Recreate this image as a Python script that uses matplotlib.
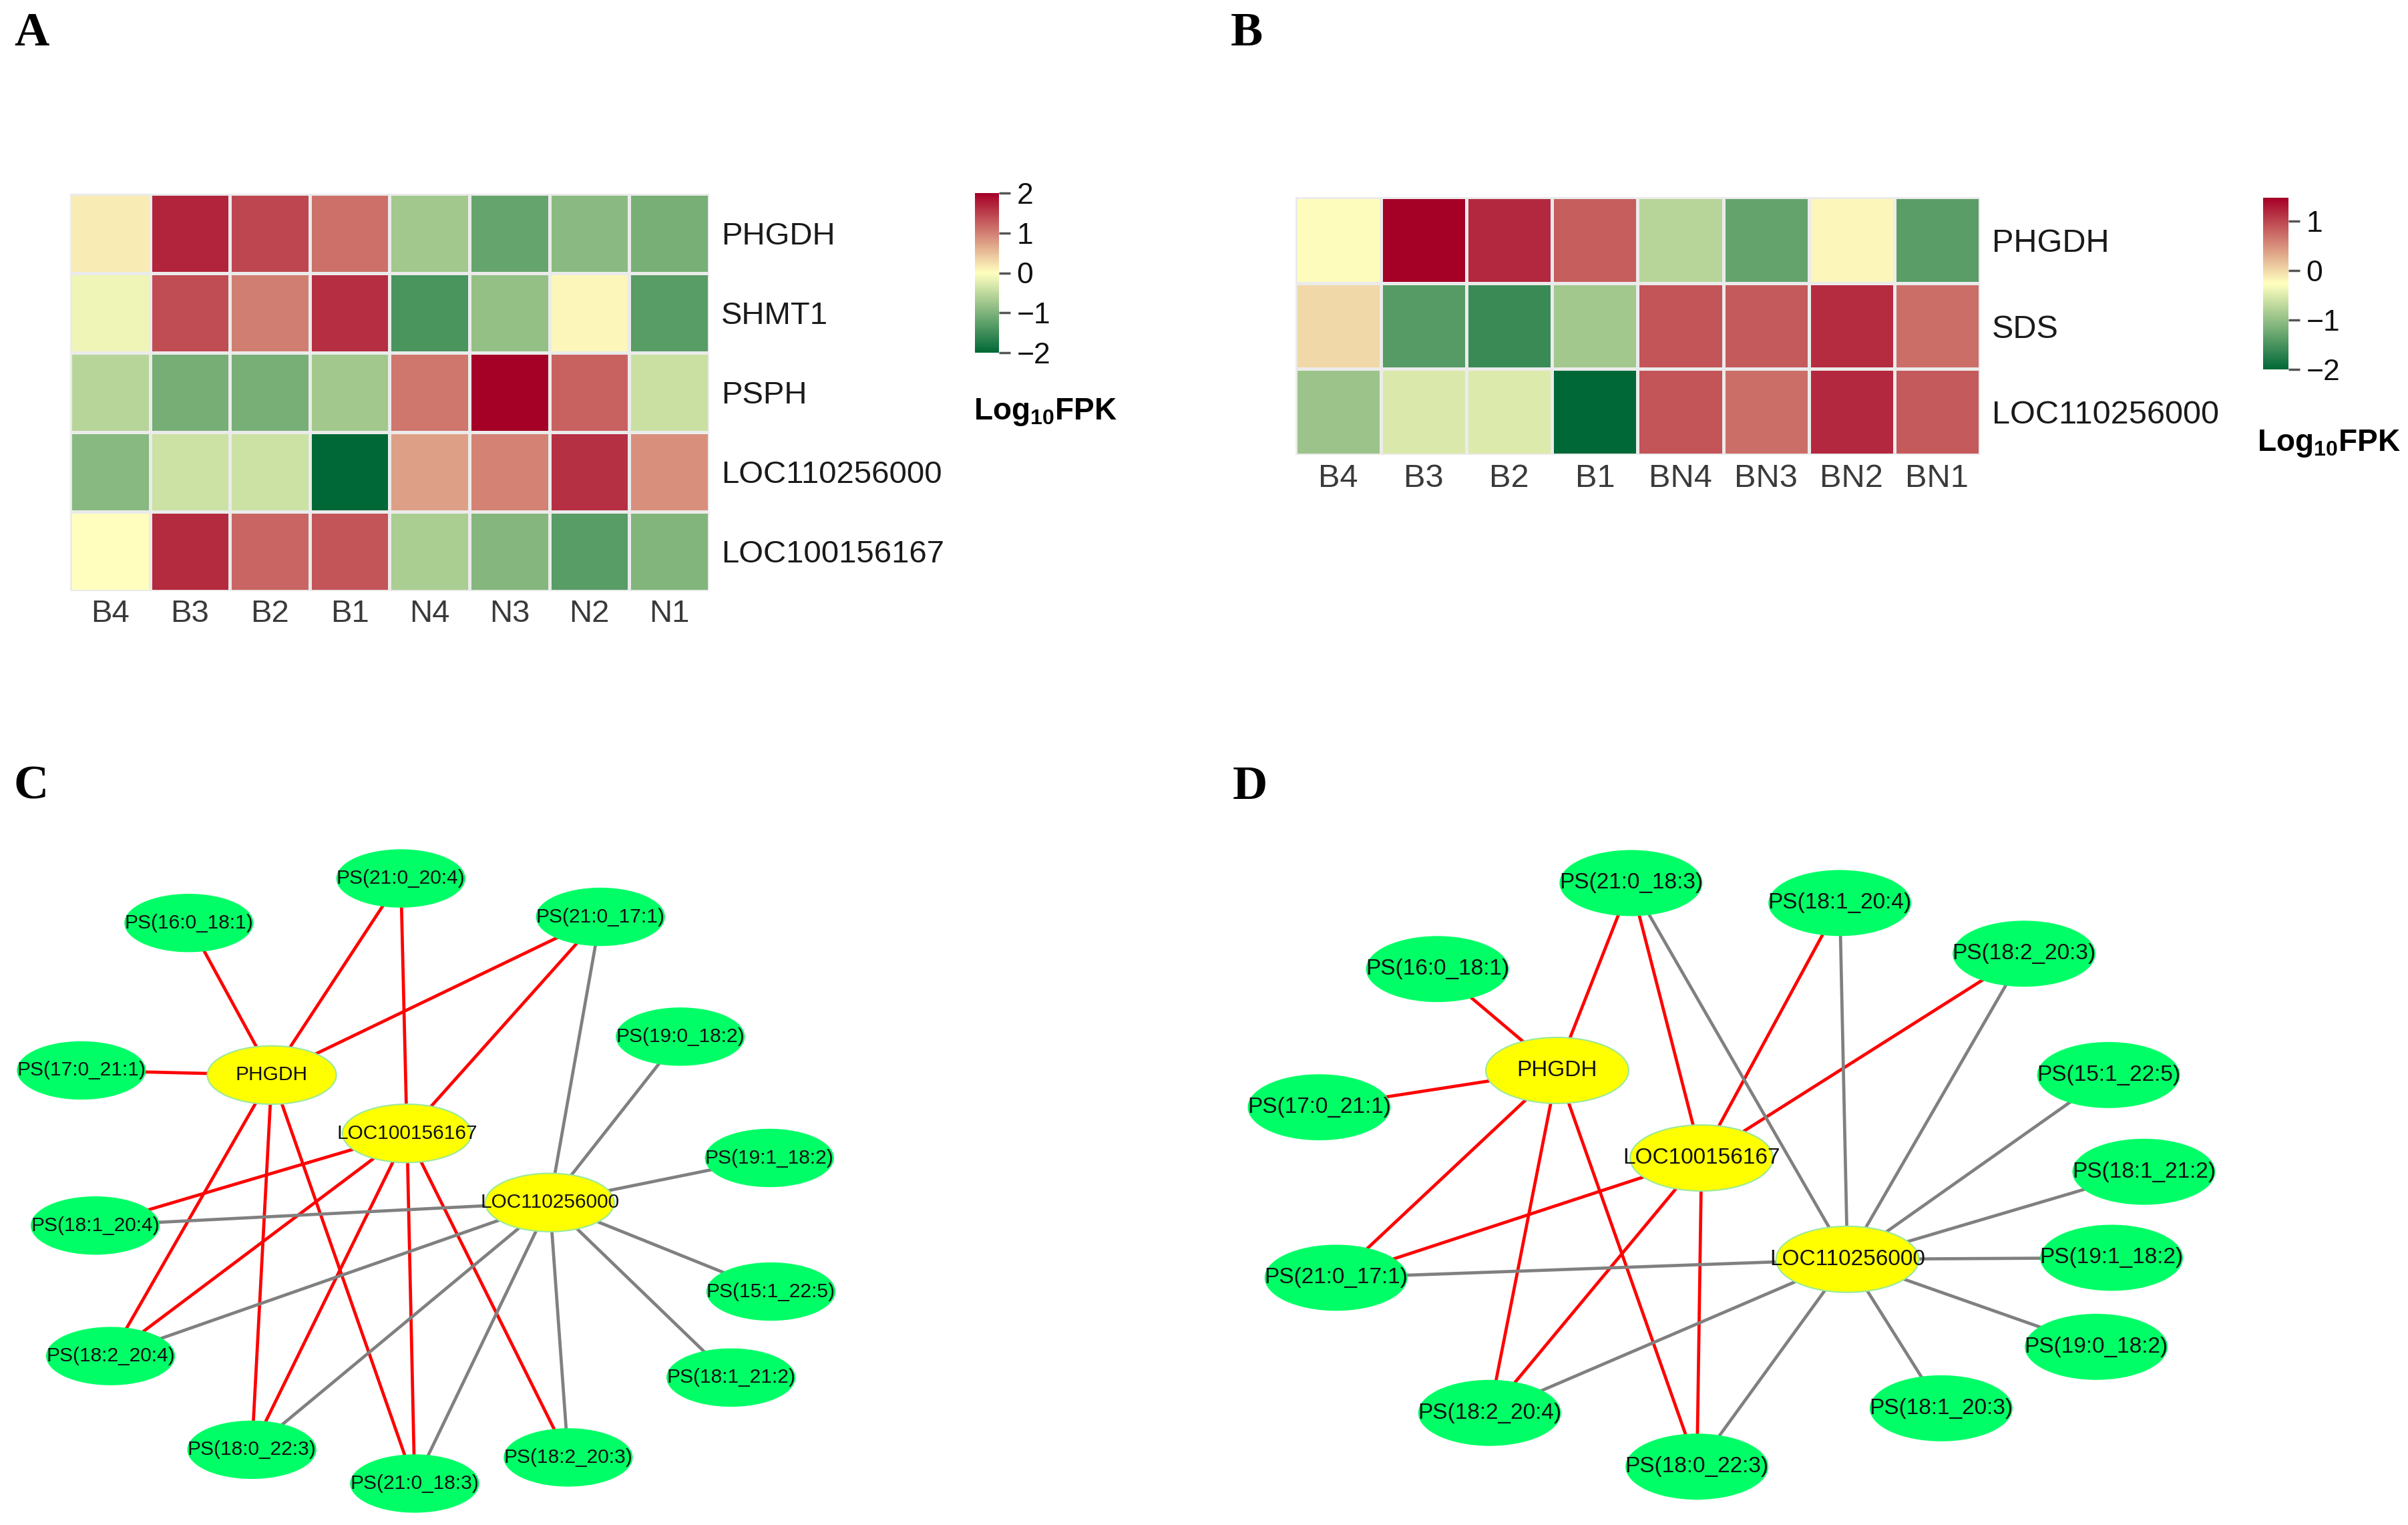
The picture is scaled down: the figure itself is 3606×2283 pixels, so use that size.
import numpy as np
import matplotlib
matplotlib.use('Agg')
import matplotlib.pyplot as plt
from matplotlib.colors import LinearSegmentedColormap
from matplotlib.patches import Ellipse

plt.rcParams['font.family'] = ['Liberation Sans', 'DejaVu Sans']
plt.rcParams['mathtext.fontset'] = 'custom'
plt.rcParams['mathtext.rm'] = 'Liberation Sans'
plt.rcParams['mathtext.bf'] = 'Liberation Sans:bold'

# ---------------- heatmap data ----------------
a_cols = ['B4', 'B3', 'B2', 'B1', 'N4', 'N3', 'N2', 'N1']
a_rows = ['PHGDH', 'SHMT1', 'PSPH', 'LOC110256000', 'LOC100156167']
a_phgdh = [0.15, 1.71, 1.44, 1.12, -0.72, -1.20, -0.91, -1.06]
a_shmt1 = [-0.14, 1.40, 1.00, 1.64, -1.42, -0.83, 0.07, -1.30]
a_psph = [-0.56, -1.07, -1.05, -0.73, 1.07, 2.00, 1.23, -0.41]
a_loc000 = [-0.93, -0.40, -0.40, -2.00, 0.74, 0.97, 1.62, 0.87]
a_loc167 = [0.00, 1.67, 1.20, 1.34, -0.67, -0.96, -1.30, -0.97]
a_ticks = [-2, -1, 0, 1, 2]

b_cols = ['B4', 'B3', 'B2', 'B1', 'BN4', 'BN3', 'BN2', 'BN1']
b_rows = ['PHGDH', 'SDS', 'LOC110256000']
b_phgdh = [-0.25, 1.47, 1.19, 0.83, -0.75, -1.31, -0.20, -1.38]
b_sds = [0.00, -1.41, -1.60, -0.90, 0.90, 0.85, 1.16, 0.72]
b_loc000 = [-0.93, -0.51, -0.50, -2.00, 0.89, 0.72, 1.19, 0.86]
b_ticks = [-2, -1, 0, 1]

# ---------------- network data (layout in page units) ----------------
c_nodes = {
    'PS(21:0_20:4)': (261, 572), 'PS(16:0_18:1)': (123, 601),
    'PS(21:0_17:1)': (391, 597), 'PS(19:0_18:2)': (443, 675),
    'PS(17:0_21:1)': (53, 697), 'PHGDH': (177, 700),
    'LOC100156167': (265, 738), 'PS(19:1_18:2)': (501, 754),
    'LOC110256000': (358, 783), 'PS(18:1_20:4)': (62, 798),
    'PS(15:1_22:5)': (502, 841), 'PS(18:2_20:4)': (72, 883),
    'PS(18:1_21:2)': (476, 897), 'PS(18:0_22:3)': (164, 944),
    'PS(18:2_20:3)': (370, 949), 'PS(21:0_18:3)': (270, 966),
}
c_red = [('PHGDH', 'PS(16:0_18:1)'), ('PHGDH', 'PS(21:0_20:4)'), ('PHGDH', 'PS(21:0_17:1)'),
         ('PHGDH', 'PS(17:0_21:1)'), ('PHGDH', 'PS(18:2_20:4)'), ('PHGDH', 'PS(18:0_22:3)'),
         ('PHGDH', 'PS(21:0_18:3)'),
         ('LOC100156167', 'PS(21:0_20:4)'), ('LOC100156167', 'PS(21:0_17:1)'),
         ('LOC100156167', 'PS(18:1_20:4)'), ('LOC100156167', 'PS(18:2_20:4)'),
         ('LOC100156167', 'PS(18:0_22:3)'), ('LOC100156167', 'PS(21:0_18:3)'),
         ('LOC100156167', 'PS(18:2_20:3)')]
c_gray = [('LOC110256000', n) for n in ['PS(21:0_17:1)', 'PS(19:0_18:2)', 'PS(19:1_18:2)',
          'PS(18:1_20:4)', 'PS(15:1_22:5)', 'PS(18:1_21:2)', 'PS(18:2_20:4)',
          'PS(18:0_22:3)', 'PS(21:0_18:3)', 'PS(18:2_20:3)']]

d_nodes = {
    'PS(21:0_18:3)': (1062, 575), 'PS(18:1_20:4)': (1198, 588),
    'PS(16:0_18:1)': (936, 631), 'PS(18:2_20:3)': (1318, 621),
    'PHGDH': (1014, 697), 'PS(15:1_22:5)': (1373, 700),
    'PS(17:0_21:1)': (859, 721), 'LOC100156167': (1108, 754),
    'PS(18:1_21:2)': (1396, 763), 'LOC110256000': (1203, 820),
    'PS(19:1_18:2)': (1375, 819), 'PS(21:0_17:1)': (870, 832),
    'PS(19:0_18:2)': (1365, 877), 'PS(18:2_20:4)': (970, 920),
    'PS(18:1_20:3)': (1264, 917), 'PS(18:0_22:3)': (1105, 955),
}
d_red = [('PHGDH', 'PS(21:0_18:3)'), ('PHGDH', 'PS(16:0_18:1)'), ('PHGDH', 'PS(17:0_21:1)'),
         ('PHGDH', 'PS(21:0_17:1)'), ('PHGDH', 'PS(18:2_20:4)'), ('PHGDH', 'PS(18:0_22:3)'),
         ('LOC100156167', 'PS(21:0_18:3)'), ('LOC100156167', 'PS(18:1_20:4)'),
         ('LOC100156167', 'PS(18:2_20:3)'), ('LOC100156167', 'PS(21:0_17:1)'),
         ('LOC100156167', 'PS(18:2_20:4)'), ('LOC100156167', 'PS(18:0_22:3)')]
d_gray = [('LOC110256000', n) for n in ['PS(21:0_18:3)', 'PS(18:1_20:4)', 'PS(18:2_20:3)',
          'PS(15:1_22:5)', 'PS(18:1_21:2)', 'PS(19:1_18:2)', 'PS(19:0_18:2)',
          'PS(18:1_20:3)', 'PS(18:0_22:3)', 'PS(18:2_20:4)', 'PS(21:0_17:1)']]
genes = ['PHGDH', 'LOC100156167', 'LOC110256000']

W, H = 3606, 2283
fig = plt.figure(figsize=(W / 100, H / 100), dpi=100)

cmap = LinearSegmentedColormap.from_list('gyr', ['#006837', '#FFFFBF', '#A50026'])


def px(x0, y0, x1, y1):
    # pixel box -> figure fraction rect
    return [x0 / W, 1 - y1 / H, (x1 - x0) / W, (y1 - y0) / H]


def heatmap(rect, crect, vals, rows, cols, ticks, lab_size):
    ax = fig.add_axes(rect)
    m = np.array(vals)
    mesh = ax.pcolormesh(m, cmap=cmap, vmin=m.min(), vmax=m.max(),
                         edgecolors='#ebebeb', linewidth=2.2)
    ax.set_xlim(0, len(cols))
    ax.set_ylim(len(rows), 0)
    ax.set_xticks(np.arange(len(cols)) + 0.5, cols)
    ax.set_yticks(np.arange(len(rows)) + 0.5, rows)
    ax.yaxis.tick_right()
    ax.tick_params(axis='y', length=0, labelsize=lab_size, pad=13, labelcolor='#1a1a1a')
    ax.tick_params(axis='x', length=0, labelsize=lab_size, pad=9, labelcolor='#3a3a3a')
    for s in ax.spines.values():
        s.set_visible(False)
    cax = fig.add_axes(crect)
    cb = fig.colorbar(mesh, cax=cax, ticks=ticks)
    cb.outline.set_visible(False)
    cax.tick_params(length=12, width=2.5, color='#555555', labelsize=32, pad=7,
                    labelcolor='#111111')
    return ax


heatmap(px(105, 290, 1062, 885), px(1460, 289, 1496, 528),
        [a_phgdh, a_shmt1, a_psph, a_loc000, a_loc167], a_rows, a_cols, a_ticks, 34)
heatmap(px(1940, 295, 2965, 681), px(3389, 296, 3427, 553),
        [b_phgdh, b_sds, b_loc000], b_rows, b_cols, b_ticks, 35)

fig.text(1458 / W, 1 - 617 / H, r'$\mathbf{Log_{10}FPK}$', fontsize=33, va='center', ha='left')
fig.text(3380 / W, 1 - 664 / H, r'$\mathbf{Log_{10}FPK}$', fontsize=33, va='center', ha='left')

# ---------------- networks ----------------
net = fig.add_axes([0, 0, 1, 1])
net.set_xlim(0, 1568)
net.set_ylim(993, 0)
net.axis('off')


def network(nodes, red, gray, gw, gh, fs):
    for a, b in red:
        net.plot([nodes[a][0], nodes[b][0]], [nodes[a][1], nodes[b][1]],
                 color='#FF0000', lw=3.4, zorder=1, solid_capstyle='butt')
    for a, b in gray:
        net.plot([nodes[a][0], nodes[b][0]], [nodes[a][1], nodes[b][1]],
                 color='#808080', lw=3.4, zorder=1, solid_capstyle='butt')
    for name, (x, y) in nodes.items():
        if name in genes:
            e = Ellipse((x, y), gw, gh, facecolor='#FFFF00', edgecolor='#9BE89B', lw=1.5, zorder=2)
        else:
            e = Ellipse((x, y), gw, gh, facecolor='#00FF66', edgecolor='none', zorder=2)
        net.add_patch(e)
        net.text(x, y, name, fontsize=fs, ha='center', va='center', color='#111111', zorder=3)


network(c_nodes, c_red, c_gray, 84, 38, 21.5)
network(d_nodes, d_red, d_gray, 93, 43, 24)

# panel letters
for lab, (x, y) in zip(['A', 'B', 'C', 'D'], [(47, 50), (1867, 50), (47, 1178), (1872, 1178)]):
    fig.text(x / W, 1 - y / H, lab, family='Liberation Serif', weight='bold', fontsize=52,
             ha='center', va='center')

fig.savefig('out.png', dpi=100, facecolor='white')
